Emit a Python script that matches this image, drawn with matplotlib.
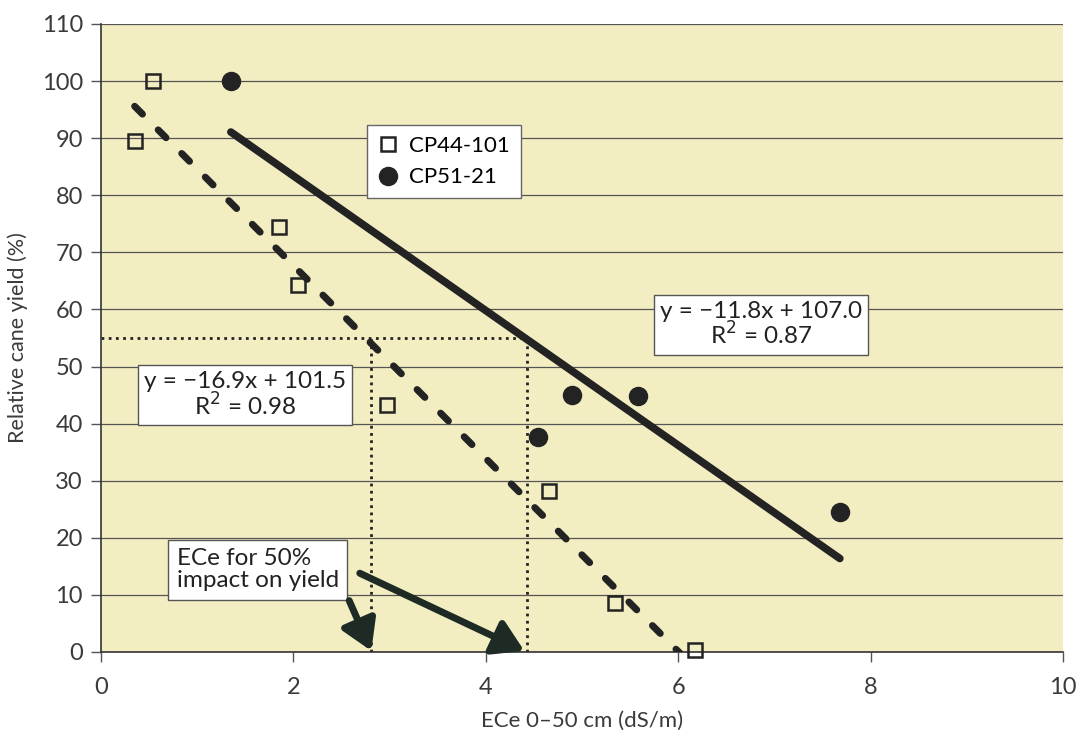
import matplotlib
matplotlib.use('Agg')
import matplotlib.pyplot as plt
import numpy as np

plt.rcParams['font.family'] = ['Lato', 'DejaVu Sans']

# CP44-101 (open squares)
ece_44 = [0.54, 0.35, 1.85, 2.05, 2.97, 4.66, 5.34, 6.17]
yield_44 = [100, 89.5, 74.4, 64.3, 43.3, 28.2, 8.6, 0.4]
# CP51-21 (filled circles)
ece_51 = [1.35, 4.54, 4.90, 5.58, 7.68]
yield_51 = [100, 37.7, 45.1, 44.9, 24.5]

# trend lines
slope_44, icpt_44 = -16.9, 101.5
slope_51, icpt_51 = -11.8, 107.0

# 50% impact guide values
impact_y = 55
impact_x = [2.81, 4.43]

bg = '#f3edc2'
dark = '#232323'

fig = plt.figure(figsize=(10.81, 7.42), dpi=100)
ax = fig.add_axes([0.0934, 0.1213, 0.89, 0.8464])
ax.set_facecolor(bg)

ax.set_xlim(0, 10)
ax.set_ylim(0, 110)
ax.set_xticks(np.arange(0, 11, 2))
ax.set_yticks(np.arange(0, 111, 10))
ax.yaxis.grid(True, color='#555555', linewidth=0.9)
ax.set_axisbelow(True)

for s in ['top', 'right']:
    ax.spines[s].set_visible(False)
for s in ['left', 'bottom']:
    ax.spines[s].set_color('#333333')
    ax.spines[s].set_linewidth(1.2)
ax.tick_params(direction='out', length=7, width=1, colors='#555555',
               labelsize=17, labelcolor='#3a3a3a', pad=6)
ax.tick_params(axis='x', pad=11)

ax.set_ylabel('Relative cane yield (%)', fontsize=15.5, color='#3a3a3a', labelpad=10)
ax.set_xlabel('ECe 0\u201350 cm (dS/m)', fontsize=16, color='#3a3a3a', labelpad=9)

# dotted guides
ax.plot([0, impact_x[1]], [impact_y, impact_y], color=dark, linestyle=(0, (1, 1.6)),
        linewidth=2, zorder=2)
for xv in impact_x:
    ax.plot([xv, xv], [0, impact_y], color=dark, linestyle=(0, (1, 1.6)),
            linewidth=2, zorder=2)

# trend lines
x44 = np.array([min(ece_44), max(ece_44)])
ax.plot(x44, slope_44 * x44 + icpt_44, color=dark, linewidth=5,
        dashes=(1.6, 3.2), dash_capstyle='round', zorder=3, clip_on=True)
x51 = np.array([min(ece_51), max(ece_51)])
ax.plot(x51, slope_51 * x51 + icpt_51, color=dark, linewidth=5.5,
        solid_capstyle='round', zorder=3)

# data
ax.plot(ece_44, yield_44, linestyle='none', marker='s', markersize=10.5,
        markerfacecolor='none', markeredgecolor=dark, markeredgewidth=1.8,
        label='CP44-101', zorder=4, clip_on=False)
ax.plot(ece_51, yield_51, linestyle='none', marker='o', markersize=13,
        markerfacecolor=dark, markeredgecolor=dark, label='CP51-21', zorder=4)

leg = ax.legend(loc='upper left', bbox_to_anchor=(0.2765, 0.839), borderaxespad=0,
                fancybox=False, framealpha=1, edgecolor='#666666', fontsize=16,
                handletextpad=0.5, handlelength=0.9, labelspacing=0.5,
                borderpad=0.5)
leg.get_frame().set_linewidth(1)

box = dict(boxstyle='square,pad=0.25', facecolor='white', edgecolor='#555555', linewidth=1)
ax.text(1.50, 45.0, 'y = \u221216.9x + 101.5\nR$^2$ = 0.98', ha='center', va='center',
        fontsize=17.5, color='#222222', bbox=box, zorder=5, linespacing=1.0)
ax.text(6.86, 57.3, 'y = \u221211.8x + 107.0\nR$^2$ = 0.87', ha='center', va='center',
        fontsize=17.5, color='#222222', bbox=box, zorder=5, linespacing=1.0)
box3 = dict(boxstyle='square,pad=0.35', facecolor='white', edgecolor='#555555', linewidth=1)
ax.text(1.63, 14.4, 'ECe for 50%\nimpact on yield', ha='center', va='center',
        multialignment='left', fontsize=17.5, color='#222222', bbox=box3, zorder=5,
        linespacing=1.05)

# arrows
arrow = dict(arrowstyle='-|>,head_length=0.9,head_width=0.55', color='#1e2a24',
             linewidth=5, shrinkA=0, shrinkB=0, mutation_scale=20)
ax.annotate('', xy=(2.81, 0.2), xytext=(2.58, 9.0), arrowprops=arrow, zorder=6)
ax.annotate('', xy=(4.40, 0.2), xytext=(2.69, 13.8), arrowprops=arrow, zorder=6)

fig.savefig('out.png', dpi=100)
